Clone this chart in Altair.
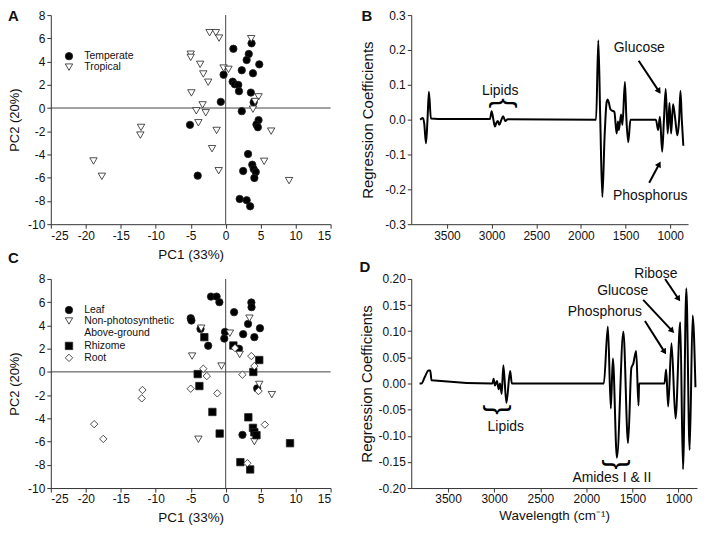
import math
import altair as alt
import pandas as pd

FONT = "Liberation Sans"
INK = "#111111"

# ---------------- Panel A data (PC1, PC2) ----------------
temp_x = [1.1, 3.7, 3.3, 3.0, 4.8, 2.3, 3.9, -0.3, 1.0, 1.3, 1.8, 1.9, 3.6, -0.7, 4.0,
          2.3, 4.7, 4.4, 4.6, -5.1, 3.2, 3.8, 4.0, 4.3, 2.5, 4.1, -4.0, 2.0, 3.0, 3.5]
temp_y = [5.1, 5.57, 4.65, 4.13, 3.76, 3.25, 2.99, 2.87, 2.27, 2.05, 1.99, 1.45, 1.33, 0.53, 0.5,
          -0.27, -1.04, -1.42, -1.65, -1.45, -3.96, -4.88, -5.25, -5.51, -5.42, -6.02, -5.82, -7.83, -7.94, -8.46]
trop_x = [-2.3, -1.4, -0.95, 3.65, -5.0, -5.0, -3.65, -3.2, -2.5, -0.3, 0.4, -4.9, 4.7, 4.2, -3.3,
          3.9, -4.2, -2.85, -3.9, -1.3, 6.5, -12.1, -12.2, -1.95, 5.5, -18.9, -17.7, -1.0, 9.06]
trop_y = [6.48, 6.48, 6.02, 5.97, 4.63, 4.36, 3.76, 2.93, 2.22, 3.44, 3.33, 1.30, 0.96, 0.56, 0.27,
          -0.1, -0.24, -0.41, -1.27, -1.93, -1.99, -1.67, -2.33, -3.50, -4.59, -4.56, -5.88, -5.40, -6.25]

# ---------------- Panel C data ----------------
leaf_x = [-2.1, -1.3, -0.9, 3.67, 3.7, 1.2, -5.0, -4.9, 3.2, 4.9, -0.1, 2.5, 4.1, -0.2, -2.5, 1.9, -3.6, 4.5, 2.4]
leaf_y = [6.48, 6.48, 6.0, 5.97, 5.57, 5.14, 4.62, 4.42, 4.13, 3.76, 3.44, 3.25, 2.99, 2.87, 2.25, 1.99, 3.7, -1.42, -5.42]
npa_x = [3.4, -3.5, 0.6, -4.8, -0.6, 4.8, 6.6, -3.9, 4.1, 2.0]
npa_y = [4.62, 3.76, 3.33, 1.36, 0.5, -1.08, -1.96, -5.8, -6.0, 1.5]
rhiz_x = [-3.05, 1.1, 4.8, -4.0, 3.95, -3.76, -1.9, 3.24, 3.9, 4.1, 4.4, -0.86, 9.2, 2.1, 3.5]
rhiz_y = [2.99, 2.27, 1.02, -0.19, -0.01, -1.22, -3.45, -3.91, -4.82, -5.2, -5.45, -5.31, -6.14, -7.77, -8.4]
root_x = [1.33, 3.67, 4.1, -3.2, -2.7, 2.4, -5.0, -1.2, 4.7, -11.9, -12.0, -18.8, -17.5, 5.6, 3.1]
root_y = [2.05, 1.36, 0.5, 0.27, -0.36, -0.24, -1.45, -1.85, -1.65, -1.56, -2.28, -4.5, -5.77, -4.54, -7.86]

# ---------------- Panel B spectrum ----------------
b_wave = [3800, 3785, 3770, 3755, 3735, 3718, 3702, 3680, 3600, 3018, 3000, 2980, 2963, 2945, 2930,
          2915, 2890, 2871, 2855, 2846, 2820, 1830, 1805, 1783, 1760, 1735, 1712, 1700, 1688, 1670,
          1650, 1625, 1600, 1585, 1575, 1550, 1535, 1507, 1490, 1470, 1445, 1160, 1135, 1115, 1090,
          1070, 1050, 1028, 1008, 990, 968, 945, 920, 900, 885, 870, 853]
b_coef = [0.0, 0.003, 0.005, -0.01, -0.068, 0.0, 0.08, 0.003, 0.002, 0.002, 0.024, 0.0, -0.02, -0.008, -0.004,
          -0.015, 0.0, 0.01, 0.0, -0.004, 0.001, 0.0, 0.228, 0.0, -0.222, -0.05, 0.05, 0.058, 0.05, 0.03,
          0.026, 0.022, -0.04, -0.005, -0.03, 0.015, -0.015, 0.108, 0.0, -0.065, 0.0, 0.0, -0.03, 0.008, -0.092,
          0.0, 0.088, -0.04, 0.048, -0.04, 0.044, 0.005, -0.045, 0.0, 0.082, 0.0, -0.075]

# ---------------- Panel D spectrum ----------------
d_wave = [3810, 3790, 3752, 3712, 3694, 3680, 3030, 3020, 3007, 2992, 2970, 2952, 2937, 2919, 2901,
          2868, 2827, 2809, 1811, 1767, 1735, 1713, 1669, 1599, 1548, 1512, 1493, 1460, 1435, 1428,
          1153, 1135, 1113, 1077, 1033, 982, 952, 916, 880, 847, 817]
d_coef = [0.0, 0.0, 0.013, 0.025, 0.025, 0.006, 0.0, 0.0, 0.009, -0.004, 0.005, -0.011, 0.0, -0.02, 0.035,
          -0.037, 0.024, 0.0, 0.0, 0.109, -0.048, 0.048, -0.142, 0.099, -0.114, 0.03, 0.037, 0.062, -0.042, 0.0,
          0.0, 0.027, -0.044, 0.077, -0.067, 0.117, -0.164, 0.182, -0.127, 0.13, -0.007]

# annotations (labels, arrows, braces) in data units
b_labels = ["Lipids", "Glucose", "Phosphorus"]
b_label_w = [2904, 1346, 1224]
b_label_v = [0.081, 0.205, -0.219]
b_arrow_from = [(1353, 0.169), (1235, -0.181)]
b_arrow_to = [(1107, 0.074), (1107, -0.12)]
b_brace = ["{"]
b_brace_w = [2864]
b_brace_v = [0.047]

d_labels = ["Ribose", "Glucose", "Phosphorus", "Lipids", "Amides I & II"]
d_label_w = [1247, 1606, 1800, 2875, 1724]
d_label_v = [0.21, 0.176, 0.136, -0.083, -0.18]
d_arrow_from = [(1146, 0.2), (1384, 0.160), (1365, 0.1196)]
d_arrow_to = [(982, 0.157), (1047, 0.0964), (1135, 0.0556)]
d_brace = ["}", "}"]
d_brace_w = [2963, 1666]
d_brace_v = [-0.05, -0.155]

SC_W, SC_H = 281, 210
B_W, D_W, SP_H = 278, 287, 210
WDOM = [3900, 800]


def letter(ch, x, y):
    return alt.Chart(pd.DataFrame({"t": [ch]})).mark_text(
        font=FONT, fontSize=15, fontWeight="bold", align="left", baseline="middle", color=INK
    ).encode(text="t:N", x=alt.value(x), y=alt.value(y))


def scatter_panel(df, field, domain, shapes, fills, legend_x, legend_y, let, let_xy, label_expr=None):
    xenc = alt.X("pc1:Q", scale=alt.Scale(domain=[-25, 15], nice=False, zero=False),
                 axis=alt.Axis(values=list(range(-25, 16, 5)), tickCount=50, title="PC1 (33%)",
                               labelOverlap=False, format="d", titlePadding=6))
    yenc = alt.Y("pc2:Q", scale=alt.Scale(domain=[-10, 8], nice=False, zero=False),
                 axis=alt.Axis(values=list(range(-10, 9, 2)), tickCount=50, title="PC2 (20%)",
                               labelOverlap=False, format="d", titlePadding=6))
    legkw = dict(orient="none", legendX=legend_x, legendY=legend_y, title=None,
                 labelFont=FONT, labelFontSize=10.5, labelColor=INK, symbolSize=55,
                 symbolStrokeColor="#222", symbolStrokeWidth=0.8, labelOffset=10,
                 rowPadding=0, padding=0)
    if label_expr:
        legkw["labelExpr"] = label_expr
    leg = alt.Legend(**legkw)
    n = len(domain)
    pts = alt.Chart(df).mark_point(filled=True, size=55, strokeWidth=0.8, opacity=1).encode(
        x=xenc, y=yenc,
        shape=alt.Shape(f"{field}:N", scale=alt.Scale(domain=domain, range=shapes), legend=leg),
        fill=alt.Fill(f"{field}:N", scale=alt.Scale(domain=domain, range=fills), legend=leg),
        stroke=alt.Stroke(f"{field}:N", scale=alt.Scale(domain=domain, range=["#222"] * n), legend=leg),
    )
    zero = pd.DataFrame({"z": [0]})
    vr = alt.Chart(zero).mark_rule(color="#444", strokeWidth=1).encode(x="z:Q")
    hr = alt.Chart(zero).mark_rule(color="#444", strokeWidth=1).encode(y="z:Q")
    return alt.layer(vr, hr, pts, letter(let, *let_xy)).properties(width=SC_W, height=SC_H)


dfA = pd.DataFrame({
    "pc1": temp_x + trop_x,
    "pc2": temp_y + trop_y,
    "climate": ["Temperate"] * len(temp_x) + ["Tropical"] * len(trop_x),
})
A = scatter_panel(dfA, "climate", ["Temperate", "Tropical"], ["circle", "triangle-down"],
                  ["black", "white"], 13, 36, "A", (-43, 1))

NPA = "Non-photosynthetic Above-ground"
dfC = pd.DataFrame({
    "pc1": leaf_x + npa_x + rhiz_x + root_x,
    "pc2": leaf_y + npa_y + rhiz_y + root_y,
    "tissue": ["Leaf"] * len(leaf_x) + [NPA] * len(npa_x) + ["Rhizome"] * len(rhiz_x) + ["Root"] * len(root_x),
})
C = scatter_panel(dfC, "tissue", ["Leaf", NPA, "Rhizome", "Root"],
                  ["circle", "triangle-down", "square", "diamond"],
                  ["black", "white", "black", "white"], 13, 26, "C", (-43, -21),
                  label_expr="datum.label == '" + NPA + "' ? ['Non-photosynthetic', 'Above-ground'] : datum.label")


def arrow_layers(froms, tos, xs, ys):
    rows, heads = [], []
    for (w1, v1), (w2, v2) in zip(froms, tos):
        dx = (w1 - w2) * xs
        dy = (v1 - v2) * ys
        ln = math.hypot(dx, dy)
        ux, uy = dx / ln, dy / ln
        ang = math.degrees(math.atan2(dx, -dy)) % 360
        back = 3.0
        rows.append({"wave": w1, "coef": v1, "wave2": w2 + back * ux / xs, "coef2": v2 + back * uy / ys})
        heads.append({"wave": w2 + back * ux / xs, "coef": v2 + back * uy / ys, "ang": ang})
    return pd.DataFrame(rows), pd.DataFrame(heads)


def spectrum_panel(wave, coef, width, ydom, yvals, yfmt, xtitle, ytitle_pad,
                   labels, lw, lv, froms, tos, braces, bw, bv, let, let_xy):
    xs = width / (WDOM[0] - WDOM[1])
    ys = SP_H / (ydom[1] - ydom[0])
    xenc = alt.X("wave:Q", scale=alt.Scale(domain=WDOM, nice=False, zero=False),
                 axis=alt.Axis(values=[1000, 1500, 2000, 2500, 3000, 3500], format="d", tickCount=50,
                               labelOverlap=False, title=xtitle, titlePadding=4))
    yenc = alt.Y("coef:Q", scale=alt.Scale(domain=ydom, nice=False, zero=False),
                 axis=alt.Axis(values=yvals, format=yfmt, labelOverlap=False, tickCount=50,
                               title="Regression Coefficients", titleFontSize=15,
                               titlePadding=ytitle_pad))
    line = alt.Chart(pd.DataFrame({"wave": wave, "coef": coef})).mark_line(
        color="black", strokeWidth=2, interpolate="monotone").encode(x=xenc, y=yenc)
    txt = alt.Chart(pd.DataFrame({"wave": lw, "coef": lv, "lab": labels})).mark_text(
        font=FONT, fontSize=14, color=INK, align="center", baseline="middle"
    ).encode(x="wave:Q", y="coef:Q", text="lab:N")
    arr, heads = arrow_layers(froms, tos, xs, ys)
    rules = alt.Chart(arr).mark_rule(color="black", strokeWidth=2).encode(
        x="wave:Q", y="coef:Q", x2="wave2:Q", y2="coef2:Q")
    hd = alt.Chart(heads).mark_point(shape="triangle-up", filled=True, color="black", size=45, opacity=1).encode(
        x="wave:Q", y="coef:Q", angle=alt.Angle("ang:Q", scale=None))
    br = alt.Chart(pd.DataFrame({"wave": bw, "coef": bv, "b": braces})).mark_text(
        font=FONT, fontSize=30, angle=90, color="black", align="center", baseline="middle"
    ).encode(x="wave:Q", y="coef:Q", text="b:N")
    return alt.layer(line, rules, hd, txt, br, letter(let, *let_xy)).properties(width=width, height=SP_H)


B = spectrum_panel(b_wave, b_coef, B_W, [-0.3, 0.3], [-0.3, -0.2, -0.1, 0.0, 0.1, 0.2, 0.3], ".1f",
                   None, 9, b_labels, b_label_w, b_label_v, b_arrow_from, b_arrow_to,
                   b_brace, b_brace_w, b_brace_v, "B", (-50, 1))
D = spectrum_panel(d_wave, d_coef, D_W, [-0.2, 0.2],
                   [-0.2, -0.15, -0.1, -0.05, 0.0, 0.05, 0.1, 0.15, 0.2], ".2f",
                   "Wavelength (cm\u207b\u00b9)", 4, d_labels, d_label_w, d_label_v, d_arrow_from, d_arrow_to,
                   d_brace, d_brace_w, d_brace_v, "D", (-52, -12))

chart = alt.concat(A, B, C, D, columns=2, spacing={"row": 55, "column": 81}, bounds="flush").resolve_scale(
    shape="independent", fill="independent", stroke="independent"
).resolve_legend(shape="independent", fill="independent", stroke="independent").properties(
    padding=0
).configure(
    locale={"number": {"decimal": ".", "thousands": ",", "grouping": [3],
                       "currency": ["$", ""], "minus": "-"}}
).configure_view(stroke=None).configure_axis(
    grid=False, domainColor="#333", tickColor="#333", tickSize=4,
    labelFont=FONT, titleFont=FONT, labelFontSize=12, titleFontSize=13,
    titleFontWeight="normal", labelColor=INK, titleColor=INK,
).configure_axisX(titleFontSize=13.5)

chart.save("out.html", embed_options={"renderer": "svg", "actions": False})
